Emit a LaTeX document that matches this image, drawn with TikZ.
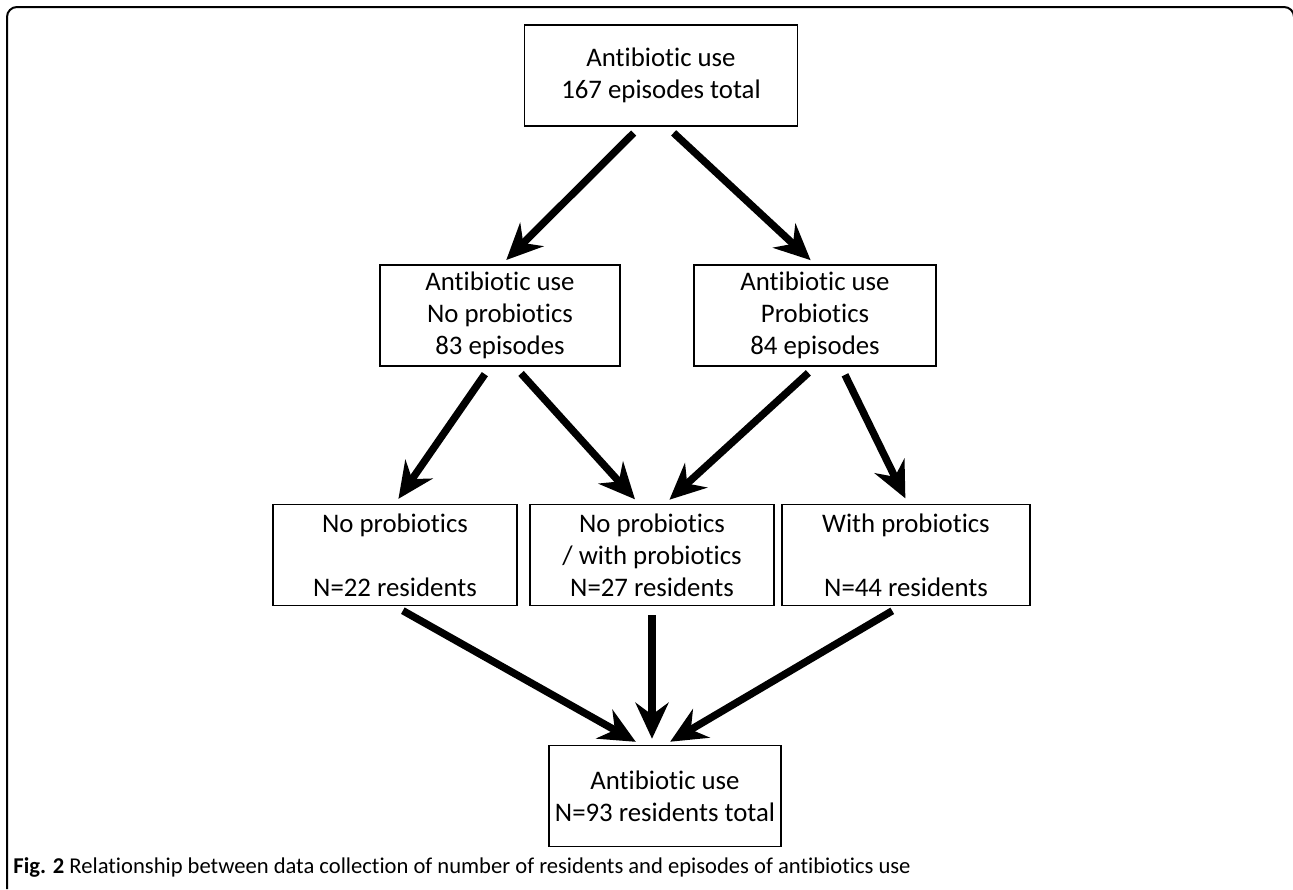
\documentclass[tikz,border=0pt]{standalone}
\usepackage{fontspec}
\setmainfont{Carlito}[Ligatures=NoCommon]
\usetikzlibrary{arrows.meta}

\begin{document}
\begin{tikzpicture}[x=0.5pt, y=-0.5pt,
  box/.style={draw, line width=0.75pt, align=center, inner sep=0pt,
    minimum width=#1, minimum height=50.5pt,
    font=\fontsize{13.4}{16}\selectfont},
  box/.default=121pt,
  arr/.style={line width=3.7pt, -{Stealth[length=18pt, width=16.5pt, inset=6pt]},
    shorten <=4.5pt, shorten >=3pt}]

\useasboundingbox (0,0) rectangle (1293,889);

% Frame
\draw[line width=1pt, rounded corners=5pt] (7,889) -- (7,7) -- (1294,7) -- (1294,30);

% Top box
\node[box=136.5pt] (use) at (661,75.5) {Antibiotic use\\167 episodes total};

% Second row
\node[box=120pt] (nopro) at (500,315.5) {Antibiotic use\\No probiotics\\83 episodes};
\node[box=121pt] (pro) at (815,315.5) {Antibiotic use\\Probiotics\\84 episodes};

% Third row
\node[box=122pt] (none) at (395,555) {No probiotics\\\mbox{}\\N=22 residents};
\node[box=122pt] (mixed) at (652,555) {No probiotics\\/ with probiotics\\N=27 residents};
\node[box=124pt] (with) at (906,555) {With probiotics\\\mbox{}\\N=44 residents};

% Bottom box
\node[box=116pt] (total) at (665,796) {Antibiotic use\\N=93 residents total};

% Arrows
\draw[arr] ([xshift=-10.5pt]use.south) -- ([xshift=1pt]nopro.north);
\draw[arr] ([xshift=3pt]use.south) -- (pro.north);

\draw[arr] ([xshift=-5pt]nopro.south) -- (none.north);
\draw[arr] ([xshift=7.5pt]nopro.south) -- ([xshift=-6.5pt]mixed.north);
\draw[arr] ([xshift=0pt]pro.south) -- ([xshift=6.5pt]mixed.north);
\draw[arr] ([xshift=13pt]pro.south) -- ([xshift=1pt]with.north);

\draw[arr] (none.south) -- ([xshift=-12pt]total.north);
\draw[arr] (mixed.south) -- ([xshift=-6.5pt]total.north);
\draw[arr] ([xshift=-3pt]with.south) -- ([xshift=0pt]total.north);

% Caption
\node[anchor=west, inner sep=0pt, font=\fontsize{11.3}{13}\selectfont] (cap) at (13,867)
  {\textbf{Fig. 2} Relationship between data collection of number of residents and episodes of antibiotics use};

\end{tikzpicture}
\end{document}
